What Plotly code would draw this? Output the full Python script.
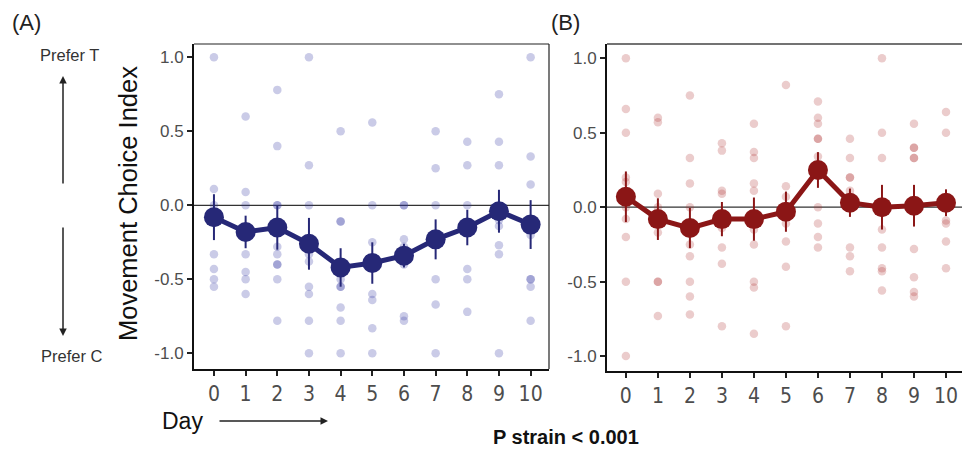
import plotly.graph_objects as go

days = list(range(11))
day_labels = [str(d) for d in days]

# Panel A individual points (per day)
a_points = [
    [1.0, 0.11, 0.0, -0.33, -0.43, -0.5, -0.55],
    [0.6, 0.09, 0.0, -0.33, -0.45, -0.5, -0.6],
    [0.78, 0.4, 0.0, 0.0, -0.28, -0.33, -0.4, -0.4, -0.5, -0.78],
    [1.0, 0.27, 0.0, -0.33, -0.38, -0.55, -0.6, -0.78, -1.0],
    [0.5, -0.11, -0.11, -0.5, -0.55, -0.55, -0.69, -0.78, -1.0],
    [0.56, 0.0, -0.25, -0.6, -0.64, -0.83, -1.0],
    [0.0, 0.0, -0.23, -0.28, -0.38, -0.4, -0.75, -0.78],
    [0.5, 0.25, 0.0, -0.5, -0.67, -1.0],
    [0.43, 0.27, 0.0, -0.43, -0.5, -0.72],
    [0.75, 0.43, 0.27, -0.1, -0.14, -0.27, -0.33, -1.0],
    [1.0, 0.33, 0.14, -0.2, -0.5, -0.5, -0.55, -0.78],
]
a_mean = [-0.08, -0.18, -0.15, -0.26, -0.42, -0.39, -0.34, -0.23, -0.15, -0.04, -0.13]
a_se = [0.155, 0.11, 0.15, 0.175, 0.13, 0.14, 0.08, 0.135, 0.12, 0.145, 0.165]

# Panel B individual points (per day)
b_points = [
    [1.0, 0.66, 0.5, 0.2, 0.17, 0.0, -0.08, -0.2, -0.5, -1.0],
    [0.6, 0.57, 0.09, 0.0, -0.17, -0.5, -0.5, -0.73],
    [0.75, 0.33, 0.16, 0.0, -0.25, -0.33, -0.5, -0.6, -0.72],
    [0.43, 0.38, 0.11, 0.09, -0.14, -0.27, -0.38, -0.8],
    [0.56, 0.37, 0.33, 0.16, 0.11, -0.15, -0.25, -0.5, -0.54, -0.85],
    [0.82, 0.14, 0.07, 0.0, -0.11, -0.23, -0.4, -0.8],
    [0.71, 0.6, 0.56, 0.46, 0.46, 0.34, 0.0, -0.11, -0.2, -0.27],
    [0.46, 0.33, 0.2, 0.2, 0.11, -0.27, -0.33, -0.43],
    [1.0, 0.5, 0.33, -0.15, -0.27, -0.41, -0.43, -0.56],
    [0.56, 0.4, 0.4, 0.33, 0.33, -0.28, -0.47, -0.57, -0.6],
    [0.64, 0.5, -0.09, -0.11, -0.23, -0.41],
]
b_mean = [0.07, -0.08, -0.14, -0.08, -0.08, -0.03, 0.25, 0.03, 0.0, 0.01, 0.03]
b_se = [0.17, 0.14, 0.135, 0.115, 0.145, 0.135, 0.12, 0.095, 0.15, 0.14, 0.09]

y_ticks = [-1.0, -0.5, 0.0, 0.5, 1.0]
y_tick_labels = ["-1.0", "-0.5", "0.0", "0.5", "1.0"]

NAVY = "#262877"
RED = "#8b1616"
W, H = 962, 449


def px(x):
    return x / W


def py(y):
    return 1 - y / H


def flat(points):
    xs, ys = [], []
    for d, vals in zip(days, points):
        for v in vals:
            xs.append(d)
            ys.append(v)
    return xs, ys


fig = go.Figure()

ax, ay = flat(a_points)
bx, by = flat(b_points)

fig.add_trace(go.Scatter(x=ax, y=ay, mode="markers", xaxis="x", yaxis="y",
                         marker=dict(size=8.5, color="rgba(45,48,160,0.25)"),
                         showlegend=False, hoverinfo="skip"))
fig.add_trace(go.Scatter(x=days, y=a_mean, mode="lines+markers", xaxis="x", yaxis="y",
                         line=dict(color=NAVY, width=5),
                         marker=dict(size=20, color=NAVY),
                         error_y=dict(type="data", array=a_se, color=NAVY, thickness=2, width=0),
                         showlegend=False))

fig.add_trace(go.Scatter(x=bx, y=by, mode="markers", xaxis="x2", yaxis="y2",
                         marker=dict(size=8.5, color="rgba(170,40,40,0.24)"),
                         showlegend=False, hoverinfo="skip"))
fig.add_trace(go.Scatter(x=days, y=b_mean, mode="lines+markers", xaxis="x2", yaxis="y2",
                         line=dict(color=RED, width=5),
                         marker=dict(size=20, color=RED),
                         error_y=dict(type="data", array=b_se, color=RED, thickness=2, width=0),
                         showlegend=False))

NARROW = "Liberation Sans Narrow, Arial Narrow, DejaVu Sans Condensed, sans-serif"
ARIAL = "Liberation Sans, Arial, sans-serif"
TICKFONT_X = dict(family=NARROW, size=21, color="#4d4d4d")
TICKFONT_Y = dict(family=ARIAL, size=17, color="#4d4d4d")

common_x = dict(tickmode="array", tickvals=days, ticktext=day_labels, ticks="outside",
                ticklen=5, tickwidth=2, tickcolor="#222", showgrid=False, zeroline=False,
                showline=True, linecolor="#111", linewidth=2, tickfont=TICKFONT_X, fixedrange=True)
common_y = dict(tickmode="array", tickvals=y_ticks, ticktext=y_tick_labels, ticks="outside",
                ticklen=5, tickwidth=2, tickcolor="#222", showgrid=False, zeroline=False,
                showline=True, linecolor="#111", linewidth=2, tickfont=TICKFONT_Y, fixedrange=True)

fig.update_layout(
    width=W, height=H,
    margin=dict(l=0, r=0, t=0, b=0),
    paper_bgcolor="white", plot_bgcolor="white",
    xaxis=dict(domain=[px(194), px(549)], range=[-0.63, 10.58], anchor="y", **common_x),
    yaxis=dict(domain=[py(369), py(44)], range=[-1.106, 1.09], anchor="x", **common_y),
    xaxis2=dict(domain=[px(607), 1.0], range=[-0.59, 10.5], anchor="y2", **common_x),
    yaxis2=dict(domain=[py(371), py(44)], range=[-1.10, 1.096], anchor="x2", **common_y),
)

# zero reference lines
fig.add_shape(type="line", xref="x domain", yref="y", x0=0, x1=1, y0=0, y1=0,
              line=dict(color="#333", width=1.2), layer="below")
fig.add_shape(type="line", xref="x2 domain", yref="y2", x0=0, x1=1, y0=0, y1=0,
              line=dict(color="#333", width=1.2), layer="below")
# panel A thin top/right border
fig.add_shape(type="line", xref="x domain", yref="y domain", x0=0, x1=1, y0=1, y1=1,
              line=dict(color="#222", width=1.2))
fig.add_shape(type="line", xref="x domain", yref="y domain", x0=1, x1=1, y0=0, y1=1,
              line=dict(color="#222", width=1.2))
# panel B top border
fig.add_shape(type="line", xref="x2 domain", yref="y2 domain", x0=0, x1=1, y0=1, y1=1,
              line=dict(color="#444", width=1.5))

ann = []
ann.append(dict(x=px(10), y=py(22), text="(A)", showarrow=False, xanchor="left", yanchor="middle",
                font=dict(family=ARIAL, size=22, color="#222")))
ann.append(dict(x=px(549), y=py(22), text="(B)", showarrow=False, xanchor="left", yanchor="middle",
                font=dict(family=ARIAL, size=22, color="#222")))
ann.append(dict(x=px(69), y=py(55), text="Prefer T", showarrow=False, xanchor="center", yanchor="middle",
                font=dict(family=ARIAL, size=16.5, color="#333")))
ann.append(dict(x=px(72), y=py(356), text="Prefer C", showarrow=False, xanchor="center", yanchor="middle",
                font=dict(family=ARIAL, size=16.5, color="#333")))
ann.append(dict(x=px(128), y=py(204), text="Movement Choice Index", showarrow=False, textangle=-90,
                xanchor="center", yanchor="middle", font=dict(family=ARIAL, size=25.5, color="#111")))
ann.append(dict(x=px(182), y=py(421), text="Day", showarrow=False, xanchor="center", yanchor="middle",
                font=dict(family=ARIAL, size=23, color="#111")))
ann.append(dict(x=px(566), y=py(437), text="<b>P strain < 0.001</b>", showarrow=False,
                xanchor="center", yanchor="middle", font=dict(family=ARIAL, size=20, color="#111")))
# arrows
ann.append(dict(x=px(63), y=py(76), ax=0, ay=109, text="", showarrow=True, arrowhead=2,
                arrowsize=1, arrowwidth=1.5, arrowcolor="#222"))
ann.append(dict(x=px(63), y=py(336), ax=0, ay=-110, text="", showarrow=True, arrowhead=2,
                arrowsize=1, arrowwidth=1.5, arrowcolor="#222"))
ann.append(dict(x=px(328), y=py(421), ax=-110, ay=0, text="", showarrow=True, arrowhead=2,
                arrowsize=1, arrowwidth=1.5, arrowcolor="#222"))
for a in ann:
    a.setdefault("xref", "paper")
    a.setdefault("yref", "paper")
fig.update_layout(annotations=ann)

fig.write_html("out.html", config={"displayModeBar": False},
               post_script="document.body.style.margin='0';document.body.style.overflow='hidden';")
